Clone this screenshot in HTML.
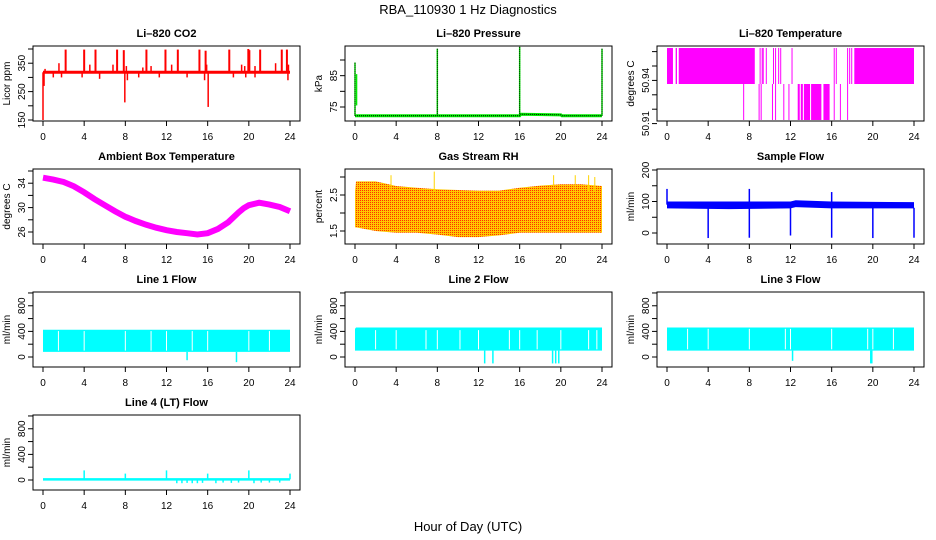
<!DOCTYPE html>
<html><head><meta charset="utf-8"><style>
html,body{margin:0;padding:0;background:#fff}
svg{display:block}
text{font-family:"Liberation Sans",Arial,sans-serif;fill:#000}
.pt{font-size:11px;font-weight:bold}
.tk{font-size:10px}
</style></head><body>
<svg id="root" width="936" height="540" viewBox="0 0 936 540" xmlns="http://www.w3.org/2000/svg">
<defs>
<pattern id="rhpat" width="2" height="2" patternUnits="userSpaceOnUse">
<rect width="2" height="2" fill="#ffc800"/><rect width="1" height="1" fill="#ff3000"/>
</pattern>
</defs>
<text x="468" y="14" text-anchor="middle" font-size="13">RBA_110930  1 Hz Diagnostics</text>
<text x="468" y="531" text-anchor="middle" font-size="13">Hour of Day (UTC)</text>
</svg>
<script>
// ---- data ----
const xTicks=[0,4,8,12,16,20,24];
// CO2
const co2Base=318;
const co2UpT=[2.2,4.0,5.1,7.2,7.85,10.05,11.9,13.1,15.2,15.8,18.1,19.95,20.05,21.1,23.2,23.7];
const co2UpV=[398,398,398,398,396,398,398,398,398,394,398,400,396,398,398,398];
const co2SmT=[0.2,1.55,4.55,6.8,8.1,9.7,10.5,12.5,15.9,19.3,19.6,20.6,22.6,23.85];
const co2SmV=[330,350,345,345,340,335,340,345,345,345,340,340,350,345];
const co2DnT=[0,0.1,1.0,1.8,3.8,5.5,7.95,8.2,9.3,11.3,14.0,15.7,16.05,18.5,19.7,20.6,23.8];
const co2DnV=[150,270,300,300,300,295,212,290,300,300,300,290,196,300,300,300,290];
// Pressure
const prBaseT=[0,16,16.1,20,20.1,24];
const prBaseV=[72.2,72.2,72.7,72.5,72.2,72.2];
const prSpT=[0,8,16,24];
const prSpV=[89.2,93.6,94.2,93.6];
// Li-820 temperature levels and intervals
const ltLevels=[50.9125,50.9375,50.9625];
const ltHiStart=[0,0.84,1.14,9.0,9.2,9.3,9.6,10.3,10.5,10.8,11.0,12.1,16.2,16.4,17.5,17.7,17.9,18.2];
const ltHiEnd  =[0.58,0.97,8.53,9.05,9.25,9.35,9.65,10.35,10.55,10.85,11.05,12.15,16.25,16.45,17.55,17.75,17.95,24];
const ltLoStart=[7.4,8.9,9.1,10.2,10.5,11.3,11.8,12.7,13.0,13.3,14.0,15.2,16.2,16.8,17.5];
const ltLoEnd  =[7.45,9.0,9.2,10.25,10.55,11.35,11.85,12.9,13.2,13.9,15.0,15.8,16.25,16.85,17.55];
// Ambient box temp
const abT=[0,1,2,3,4,5,6,7,8,9,10,11,12,13,14,15,16,17,18,19,19.5,20,21,22,23,24];
const abV=[34.9,34.6,34.2,33.5,32.5,31.4,30.4,29.4,28.5,27.8,27.2,26.7,26.3,26.0,25.8,25.6,25.8,26.5,27.6,29.2,29.9,30.4,30.8,30.5,30.1,29.4];
// Gas stream RH
const rhT=[0,0.1,2,4,6,8,10,12,14,16,18,20,22,24];
const rhHi=[2.6,2.88,2.88,2.75,2.7,2.66,2.64,2.62,2.62,2.7,2.76,2.8,2.8,2.75];
const rhLo=[1.6,1.6,1.5,1.45,1.45,1.4,1.33,1.33,1.38,1.45,1.45,1.45,1.45,1.45];
const rhSpT=[3.5,7.7,19.3,21.4,22.7,23.3];
const rhSpV=[3.05,3.15,3.05,3.05,3.05,3.0];
// Sample flow
const sfT=[0,6,12,12.5,16,24];
const sfHi=[100,100,100,104,100,98];
const sfLo=[78,76,78,82,78,78];
const sfDnT=[4,8,12,16,20,24];
const sfDnV=[-16,-15,-8,-15,-16,-15];
const sfUpT=[0,8,16];
const sfUpV=[140,140,130];
// Line flows
const l1T=[0,24]; const l1Hi=[425,425]; const l1Lo=[80,80];
const l1GapT=[4,8,12,16,20,1.5,10.5,14.5,22];
const l1DipT=[14,18.8]; const l1DipV=[-50,-80];
const l2T=[0,0.1,24]; const l2Hi=[440,460,460]; const l2Lo=[100,100,100];
const l2GapT=[2,4,6.9,8,10.2,12,15,16,17.7,20,22.7,23.5];
const l2DipT=[12.6,13.4,19.2,19.5,19.8]; const l2DipV=[-100,-100,-100,-100,-100];
const l3T=[0,24]; const l3Hi=[460,460]; const l3Lo=[100,100];
const l3GapT=[2,4,8,11.5,12,16,19.5,20,22];
const l3DipT=[12.2,19.8,19.9]; const l3DipV=[-60,-100,-100];
const l4BaseV=10;
const l4SpT=[4,8,12,16,20,24];
const l4SpV=[150,100,150,100,150,100];
const l4DipT=[13,13.5,14,14.5,15,15.5,16.8,17.5,18.3,19,20.5,21.2,22,23];
const l4DipV=[-50,-50,-45,-50,-50,-45,-50,-40,-45,-40,-50,-40,-40,-40];

// ---- drawing ----
const NS="http://www.w3.org/2000/svg";
const root=document.getElementById('root');
const colX=[33,345,657],rowY=[46,169,292,415],W=267,H=75;
function el(tag,attrs,parent){const e=document.createElementNS(NS,tag);for(const k in attrs)e.setAttribute(k,attrs[k]);(parent||root).appendChild(e);return e;}
function panel(c,r,lo,hi){const L=colX[c],T=rowY[r];return {L,T,x:t=>L+10+t/24*247,y:v=>T+H-(v-lo)/(hi-lo)*H};}
function axes(p,g,title,ylab,yt,yl,c){
  const b=el('rect',{x:p.L,y:p.T,width:W,height:H,fill:'none',stroke:'#000','stroke-width':1},g);
  
  
  const t=el('text',{x:p.L+W/2,y:p.T-9,'text-anchor':'middle',class:'pt'},g);t.textContent=title;
  
  
  const yt2=el('text',{transform:`translate(${p.L-23},${p.T+H/2}) rotate(-90)`,'text-anchor':'middle',class:'tk'},g);yt2.textContent=ylab;
  
  
  xTicks.forEach(v=>{
    const l=el('line',{x1:p.x(v),x2:p.x(v),y1:p.T+H,y2:p.T+H+5,stroke:'#000'},g);
    
    
    const tx=el('text',{x:p.x(v),y:p.T+H+19,'text-anchor':'middle',class:'tk'},g);tx.textContent=v;
    
    
  });
  yt.forEach(v=>{
    const l=el('line',{x1:p.L-5,x2:p.L,y1:p.y(v),y2:p.y(v),stroke:'#000'},g);
    
    
  });
  yl.forEach(v=>{
    const tx=el('text',{transform:`translate(${p.L-8},${p.y(v)}) rotate(-90)`,'text-anchor':'middle',class:'tk'},g);tx.textContent=v;
    
    
  });
}
function grp(name){const g=el('g',{});return g;}
function vline(p,g,t,v0,v1,col,w){const l=el('line',{x1:p.x(t),x2:p.x(t),y1:p.y(v0),y2:p.y(v1),stroke:col,'stroke-width':w||1.5},g);return l;}
function band(p,g,T,HI,LO,fill){
  let d='M'+T.map((t,i)=>p.x(t)+','+p.y(HI[i])).join('L');
  for(let i=T.length-1;i>=0;i--)d+='L'+p.x(T[i])+','+p.y(LO[i]);
  const e=el('path',{d:d+'Z',fill:fill},g);
  
  
  return e;
}
function line(p,g,T,V,col,w){const e=el('polyline',{points:T.map((t,i)=>p.x(t)+','+p.y(V[i])).join(' '),fill:'none',stroke:col,'stroke-width':w},g);return e;}

// CO2
{const p=panel(0,0,146.5,410.6),g=grp('co2-panel');const R='#ff0000';
 line(p,g,[0,24],[co2Base,co2Base],R,3);
 co2UpT.forEach((t,i)=>vline(p,g,t,co2Base,co2UpV[i],R,2));
 co2SmT.forEach((t,i)=>vline(p,g,t,co2Base,co2SmV[i],R,1.5));
 co2DnT.forEach((t,i)=>vline(p,g,t,co2Base,co2DnV[i],R,1.5));
 axes(p,g,'Li\u2013820 CO2','Licor ppm',[150,200,250,300,350,400],[150,250,350]);}
// Pressure
{const p=panel(1,0,70.53,94.47),g=grp('pressure-panel');
 line(p,g,prBaseT,prBaseV,'#00ee00',3);
 line(p,g,prBaseT,prBaseV,'#000',1).setAttribute('stroke-dasharray','1,1');
 prSpT.forEach((t,i)=>{vline(p,g,t,prBaseV[0],prSpV[i],'#00ee00',1.5);vline(p,g,t,prBaseV[0],prSpV[i],'#000',1).setAttribute('stroke-dasharray','1,1');});
 vline(p,g,0.15,75.5,85.5,'#00ee00',1.5);
 axes(p,g,'Li\u2013820 Pressure','kPa',[75,80,85,90],[75,85]);}
// Li temp
{const p=panel(2,0,50.9118,50.9639),g=grp('li820-temp-panel');const M='#ff00ff';
 const rect=(a,b,v0,v1)=>{const x0=p.x(a),w=Math.max(1,p.x(b)-x0);const r=el('rect',{x:x0,y:p.y(v1),width:w,height:p.y(v0)-p.y(v1),fill:M},g);};
 ltHiStart.forEach((a,i)=>rect(a,ltHiEnd[i],ltLevels[1],ltLevels[2]));
 ltLoStart.forEach((a,i)=>rect(a,ltLoEnd[i],ltLevels[0],ltLevels[1]));
 axes(p,g,'Li\u2013820 Temperature','degrees C',[50.91,50.92,50.93,50.94,50.95,50.96],['50.91','50.94']);}
// Ambient
{const p=panel(0,1,24.03,36.33),g=grp('ambient-temp-panel');
 line(p,g,abT,abV,'#ff00ff',6);
 axes(p,g,'Ambient Box Temperature','degrees C',[26,28,30,32,34,36],[26,30,34]);}
// RH
{const p=panel(1,1,1.139,3.222),g=grp('rh-panel');
 band(p,g,rhT,rhHi,rhLo,'url(#rhpat)');
 rhSpT.forEach((t,i)=>vline(p,g,t,2.6,rhSpV[i],'#ffd400',1));
 axes(p,g,'Gas Stream RH','percent',[1.5,2.0,2.5,3.0],['1.5','2.5']);}
// Sample flow
{const p=panel(2,1,-34.9,203.2),g=grp('sample-flow-panel');const B='#0000ff';
 band(p,g,sfT,sfHi,sfLo,B);
 sfDnT.forEach((t,i)=>vline(p,g,t,80,sfDnV[i],B,1.5));
 sfUpT.forEach((t,i)=>vline(p,g,t,90,sfUpV[i],B,1.5));
 axes(p,g,'Sample Flow','ml/min',[0,50,100,150,200],[0,100,200]);}
// Line flows
function flow(c,r,name,title,T,HI,LO,gaps,dT,dV){
 const p=panel(c,r,-156,1015),g=grp(name);const C='#00ffff';
 band(p,g,T,HI,LO,C);
 gaps.forEach(t=>{const v=vline(p,g,t,LO[0]+20,HI[0]-20,'#fff',1);});
 dT.forEach((t,i)=>vline(p,g,t,LO[0],dV[i],C,1.5));
 axes(p,g,title,'ml/min',[0,200,400,600,800,1000],[0,400,800]);
}
flow(0,2,'line1-flow-panel','Line 1 Flow',l1T,l1Hi,l1Lo,l1GapT,l1DipT,l1DipV);
flow(1,2,'line2-flow-panel','Line 2 Flow',l2T,l2Hi,l2Lo,l2GapT,l2DipT,l2DipV);
flow(2,2,'line3-flow-panel','Line 3 Flow',l3T,l3Hi,l3Lo,l3GapT,l3DipT,l3DipV);
{const p=panel(0,3,-156,1015),g=grp('line4-flow-panel');const C='#00ffff';
 line(p,g,[0,24],[l4BaseV,l4BaseV],C,2.5);
 l4SpT.forEach((t,i)=>vline(p,g,t,l4BaseV,l4SpV[i],C,1.5));
 l4DipT.forEach((t,i)=>vline(p,g,t,l4BaseV,l4DipV[i],C,1.5));
 axes(p,g,'Line 4 (LT) Flow','ml/min',[0,200,400,600,800,1000],[0,400,800]);}
</script>
</body></html>
